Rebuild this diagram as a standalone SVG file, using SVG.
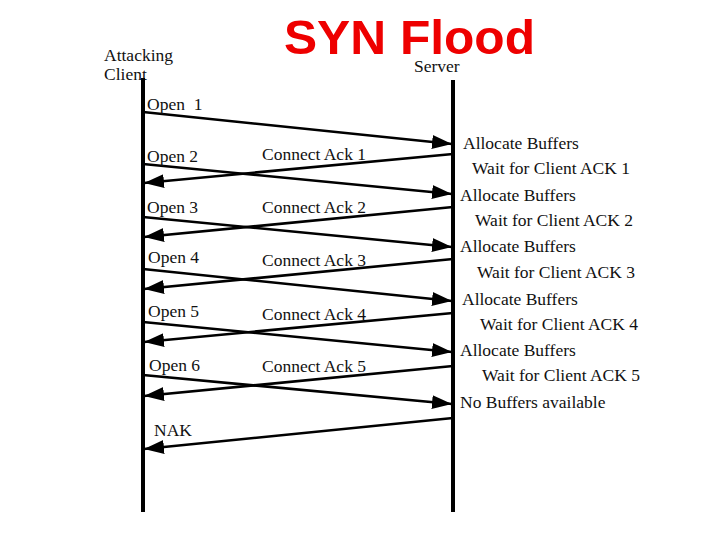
<svg xmlns="http://www.w3.org/2000/svg" width="720" height="540" viewBox="0 0 720 540">
<style>
.t{font-family:"Liberation Serif","Times New Roman",serif;font-size:17.5px;fill:#111}
.title{font-family:"Liberation Sans",Arial,sans-serif;font-weight:bold;font-size:49px;fill:#ee0000}
.life{stroke:#000;stroke-width:4;fill:none}
.msg{stroke:#000;stroke-width:2.6;fill:none;marker-end:url(#ah)}
</style>
<defs>
<marker id="ah" viewBox="0 0 20 14" refX="20" refY="7" markerWidth="20" markerHeight="14" markerUnits="userSpaceOnUse" orient="auto">
<path d="M0,0 L20,7 L0,14 Z" fill="#000"/>
</marker>
</defs>
<rect width="720" height="540" fill="#fff"/>
<text class="title" x="284" y="54" textLength="251" lengthAdjust="spacingAndGlyphs">SYN Flood</text>
<g id="client">
<text class="t" x="104" y="61">Attacking</text>
<text class="t" x="104" y="80">Client</text>
<line class="life" x1="143" y1="78" x2="143" y2="512"/>
</g>
<g id="server">
<text class="t" x="414" y="72">Server</text>
<line class="life" x1="453" y1="80" x2="453" y2="512"/>
</g>
<g id="connectors">
<line class="msg" x1="143" y1="112" x2="452" y2="144"/>
<line class="msg" x1="453" y1="154" x2="144" y2="183"/>
<line class="msg" x1="143" y1="164" x2="452" y2="194"/>
<line class="msg" x1="453" y1="207" x2="144" y2="237"/>
<line class="msg" x1="143" y1="217" x2="452" y2="247"/>
<line class="msg" x1="453" y1="259" x2="144" y2="289"/>
<line class="msg" x1="143" y1="269" x2="452" y2="301"/>
<line class="msg" x1="453" y1="313" x2="144" y2="342"/>
<line class="msg" x1="143" y1="322" x2="452" y2="352"/>
<line class="msg" x1="453" y1="366" x2="144" y2="396"/>
<line class="msg" x1="143" y1="375" x2="452" y2="404"/>
<line class="msg" x1="453" y1="418" x2="144" y2="449"/>
</g>
<g id="labels">
<text class="t" x="147" y="110" xml:space="preserve">Open  1</text>
<text class="t" x="147" y="162">Open 2</text>
<text class="t" x="147" y="213">Open 3</text>
<text class="t" x="148" y="263">Open 4</text>
<text class="t" x="148" y="317">Open 5</text>
<text class="t" x="149" y="371">Open 6</text>
<text class="t" x="154" y="436">NAK</text>
<text class="t" x="262" y="160">Connect Ack 1</text>
<text class="t" x="262" y="213">Connect Ack 2</text>
<text class="t" x="262" y="266">Connect Ack 3</text>
<text class="t" x="262" y="320">Connect Ack 4</text>
<text class="t" x="262" y="372">Connect Ack 5</text>
<text class="t" x="463" y="149">Allocate Buffers</text>
<text class="t" x="472" y="174">Wait for Client ACK 1</text>
<text class="t" x="460" y="201">Allocate Buffers</text>
<text class="t" x="475" y="226">Wait for Client ACK 2</text>
<text class="t" x="460" y="252">Allocate Buffers</text>
<text class="t" x="477" y="278">Wait for Client ACK 3</text>
<text class="t" x="462" y="305">Allocate Buffers</text>
<text class="t" x="480" y="330">Wait for Client ACK 4</text>
<text class="t" x="460" y="356">Allocate Buffers</text>
<text class="t" x="482" y="381">Wait for Client ACK 5</text>
<text class="t" x="460" y="408">No Buffers available</text>
</g>
</svg>
